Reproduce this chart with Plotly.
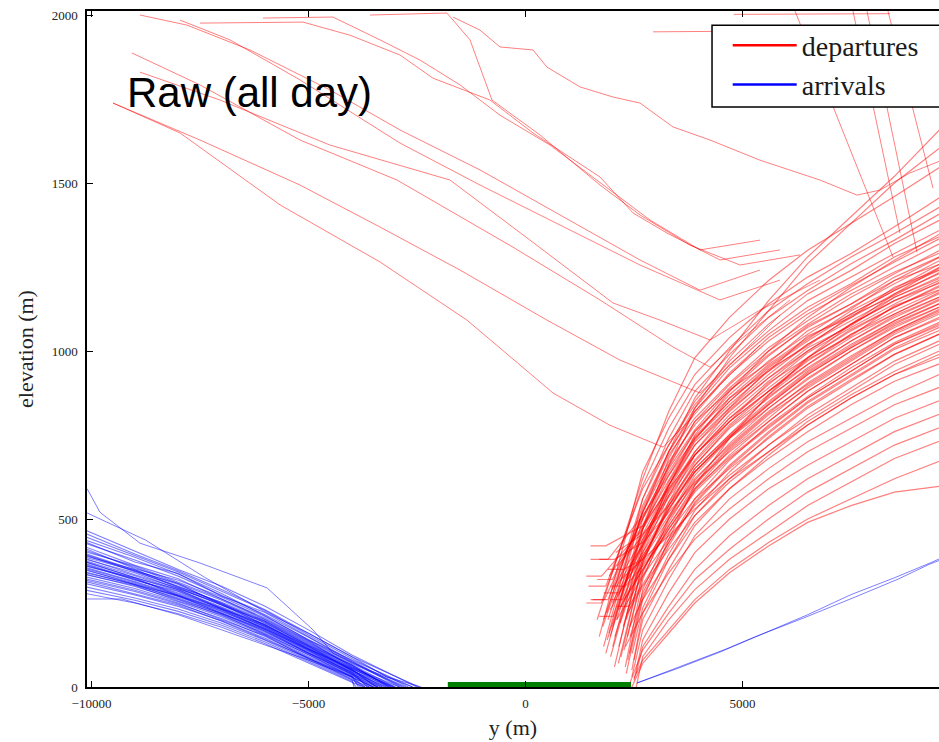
import plotly.graph_objects as go

# ---------------- DATA ----------------
# Departures: main climbing bundle. Each line = start point + elevations at common y nodes
dep_nodes = [2700, 3300, 3900, 4700, 5600, 6500, 7500, 8500, 9700]
dep_start_x = [1700, 1750, 1800, 1850, 1900, 2000, 1800, 1850, 1900, 1950,
               2000, 2050, 1900, 2100, 2150, 1750, 2000, 2200, 1850, 2100,
               2250, 2300, 1950, 2150, 2350, 2050, 2200, 2400, 2300, 2450,
               2100, 2350, 2500, 2250, 2400, 2450, 2300, 2500, 2550, 2400,
               2550, 2500, 2450, 1650,
               1780, 1820, 1880, 1930, 1960, 2020, 2060, 2110, 2140, 1990,
               2180, 2230, 2270, 2080, 2320, 2200, 2360, 2280, 2410, 2150,
               2380, 2460, 1870, 1920, 2010, 2120, 2320]
dep_start_y = [150, 250, 120, 300, 200, 180, 200, 100, 260, 150,
               320, 60, 380, 200, 120, 330, 250, 90, 420, 300,
               180, 60, 230, 280, 150, 380, 240, 100, 300, 50,
               200, 220, 80, 350, 180, 30, 120, 20, 40, 10,
               0, 25, 0, 200,
               180, 260, 140, 330, 90, 210, 150, 360, 70, 290,
               190, 260, 110, 400, 200, 320, 80, 260, 150, 230,
               240, 100, 220, 160, 120, 270, 40]
dep_lead_x = [None, 1400, None, 1450, None, None, None, None, 1550, None,
              1650, None, 1500, None, None, 1400, None, None, 1500, None,
              None, None, None, 1800, None, 1700, None, None, 1950, None,
              None, None, None, 1900, None, None, None, None, None, None,
              None, None, None, None,
              None, 1500, None, None, None, 1700, None, None, None, None,
              None, 1950, None, None, None, None, None, None, None, None,
              2100, None, None, None, None, None, None]
dep_elev = [
    [640, 800, 930, 1040, 1140, 1220, 1290, 1370, 1470],
    [600, 770, 900, 1010, 1120, 1200, 1280, 1350, 1440],
    [560, 740, 880, 990, 1100, 1180, 1260, 1330, 1420],
    [590, 720, 850, 970, 1080, 1170, 1240, 1320, 1400],
    [520, 700, 860, 1000, 1150, 1280, 1400, 1520, 1680],
    [480, 660, 830, 980, 1120, 1260, 1380, 1500, 1620],
    [540, 700, 820, 930, 1030, 1110, 1180, 1250, 1330],
    [500, 660, 790, 900, 1000, 1080, 1160, 1230, 1310],
    [520, 670, 780, 890, 990, 1070, 1140, 1210, 1290],
    [470, 630, 760, 870, 970, 1050, 1130, 1200, 1280],
    [500, 640, 760, 860, 960, 1040, 1110, 1180, 1260],
    [420, 600, 740, 850, 950, 1030, 1110, 1180, 1250],
    [510, 630, 740, 840, 940, 1020, 1100, 1170, 1240],
    [440, 590, 720, 830, 930, 1020, 1090, 1160, 1230],
    [400, 570, 700, 810, 910, 1000, 1080, 1150, 1220],
    [470, 600, 720, 820, 920, 1000, 1080, 1150, 1210],
    [430, 580, 690, 800, 890, 980, 1060, 1130, 1200],
    [370, 540, 670, 780, 880, 970, 1050, 1120, 1190],
    [480, 590, 690, 790, 880, 960, 1040, 1110, 1180],
    [420, 550, 660, 770, 860, 950, 1030, 1100, 1170],
    [380, 530, 650, 750, 850, 940, 1020, 1090, 1160],
    [320, 500, 630, 740, 840, 930, 1010, 1080, 1150],
    [400, 530, 640, 740, 830, 920, 1000, 1070, 1140],
    [390, 510, 620, 720, 820, 900, 980, 1060, 1130],
    [330, 480, 600, 710, 810, 890, 970, 1050, 1120],
    [430, 520, 610, 700, 790, 880, 960, 1040, 1110],
    [350, 470, 580, 680, 770, 860, 940, 1020, 1090],
    [270, 420, 550, 660, 760, 850, 930, 1010, 1080],
    [360, 460, 560, 650, 740, 830, 910, 990, 1060],
    [220, 380, 510, 620, 720, 810, 890, 970, 1040],
    [330, 440, 540, 630, 720, 800, 880, 960, 1030],
    [300, 410, 510, 610, 700, 790, 870, 940, 1010],
    [200, 350, 480, 590, 690, 780, 860, 930, 1000],
    [380, 450, 530, 620, 700, 780, 860, 930, 990],
    [260, 380, 490, 590, 680, 760, 840, 910, 970],
    [170, 320, 450, 560, 650, 730, 800, 870, 940],
    [220, 340, 440, 530, 620, 700, 770, 840, 900],
    [140, 280, 400, 500, 590, 660, 730, 800, 860],
    [120, 240, 350, 450, 540, 620, 690, 760, 820],
    [110, 220, 320, 410, 500, 580, 650, 720, 780],
    [90, 200, 290, 380, 460, 540, 610, 680, 740],
    [80, 170, 260, 350, 430, 500, 560, 620, 680],
    [70, 160, 250, 340, 420, 490, 540, 580, 600],
    [620, 820, 980, 1100, 1210, 1300, 1380, 1460, 1560],
    [520, 690, 800, 905, 1010, 1090, 1170, 1235, 1300],
    [505, 655, 790, 880, 985, 1075, 1140, 1220, 1290],
    [470, 650, 765, 885, 965, 1060, 1125, 1210, 1265],
    [480, 615, 745, 850, 955, 1035, 1120, 1185, 1270],
    [430, 610, 735, 860, 940, 1045, 1100, 1190, 1250],
    [455, 600, 730, 830, 945, 1015, 1105, 1165, 1245],
    [410, 585, 700, 825, 920, 1010, 1075, 1160, 1225],
    [450, 570, 690, 800, 900, 995, 1070, 1140, 1215],
    [370, 550, 690, 790, 905, 980, 1065, 1130, 1205],
    [440, 565, 675, 790, 880, 975, 1045, 1135, 1190],
    [380, 540, 660, 775, 870, 960, 1050, 1110, 1185],
    [390, 525, 650, 750, 865, 945, 1030, 1105, 1170],
    [340, 505, 640, 745, 845, 935, 1015, 1090, 1165],
    [455, 540, 640, 745, 840, 930, 1010, 1085, 1150],
    [345, 490, 615, 725, 830, 915, 1000, 1075, 1140],
    [380, 500, 605, 715, 815, 905, 985, 1060, 1135],
    [290, 455, 590, 705, 800, 895, 975, 1055, 1125],
    [350, 470, 585, 690, 790, 880, 960, 1040, 1105],
    [280, 430, 560, 675, 780, 865, 950, 1025, 1095],
    [365, 480, 590, 685, 775, 860, 940, 1020, 1085],
    [305, 430, 545, 655, 755, 845, 925, 1005, 1070],
    [235, 395, 525, 640, 745, 835, 915, 990, 1060],
    [560, 720, 840, 960, 1060, 1150, 1220, 1290, 1370],
    [530, 700, 830, 950, 1050, 1130, 1200, 1280, 1350],
    [470, 680, 820, 935, 1040, 1120, 1195, 1265, 1345],
    [420, 600, 750, 880, 1000, 1100, 1190, 1270, 1360],
    [260, 440, 600, 740, 870, 980, 1080, 1170, 1260],
]

# Departures: tracks descending from the upper left, then joining the bundle
desc_x = [
    [-9504, -7960, -5656, -3352, -1348, 634, 1947, 3168, 3790, 4481, 5402],
    [-9504, -7500, -5196, -3352, -1509, 495, 2177, 4020, 4712, 5863],
    [-9066, -7500, -5196, -2961, -288, 1716, 3398, 4251, 4942, 6094],
    [-8882, -7039, -4505, -1740, 104, 2016, 3099, 4251, 5402, 6784],
    [-8882, -7799, -6348, -4505, -2892, -1048, 795, 2638, 4020, 5402],
    [-7960, -6808, -5196, -2892, -1048, 795, 2638, 4481, 5863],
    [-7500, -5127, -4044, -2892, -2131, -818, 173, 1716, 2477, 3260, 4481, 5863],
    [-6048, -4436, -3352, -2431, -1509, -588, 564, 1947, 2868, 4020, 5402],
    [-3583, -1809, -1279, -772, 334, 1716, 2638, 3790, 4942, 6324],
    [-1670, -1048, -588, 173, 495, 1256, 2016, 2638, 3398, 4251, 5402, 6784, 7638, 8167, 8858, 9600],
    [2940, 5000],
    [4800, 8400],
    [6209, 8466],
    [7545, 8628],
    [7868, 9020],
    [8351, 9389],
]
desc_y = [
    [1738, 1649, 1435, 1265, 1092, 875, 779, 714, 795, 899, 1018],
    [1738, 1628, 1494, 1369, 1241, 1092, 973, 875, 958, 1107],
    [1887, 1792, 1628, 1509, 1309, 1152, 1012, 952, 1033, 1152],
    [1830, 1747, 1613, 1509, 1330, 1143, 1092, 1033, 1122, 1211],
    [2000, 1970, 1896, 1777, 1658, 1539, 1405, 1271, 1181, 1241],
    [1985, 1926, 1807, 1619, 1494, 1375, 1256, 1152, 1211],
    [1976, 1979, 1940, 1881, 1812, 1747, 1649, 1518, 1411, 1351, 1271, 1301],
    [1991, 1994, 1926, 1866, 1792, 1702, 1613, 1479, 1390, 1301, 1330],
    [2000, 2006, 1926, 1747, 1643, 1494, 1405, 1315, 1256, 1286],
    [1994, 1955, 1905, 1896, 1845, 1786, 1756, 1738, 1667, 1628, 1568, 1509, 1464, 1479, 1530, 1568],
    [1950, 1952],
    [2002, 2004],
    [2012, 1280],
    [2012, 1351],
    [2012, 1294],
    [2012, 1485],
]

# Arrivals: descending bundle on the left (elevation at common nodes, then touchdown y)
arr_nodes = [-10200, -9000, -8000, -7000, -6000, -5000, -4000]
arr_elev = [
    [470, 405, 350, 300, 240, 170, 95],
    [450, 390, 342, 285, 228, 155, 85],
    [430, 378, 330, 272, 215, 148, 75],
    [420, 362, 322, 262, 205, 138, 70],
    [410, 356, 308, 258, 200, 132, 66],
    [400, 348, 305, 248, 196, 128, 62],
    [395, 342, 300, 250, 190, 125, 58],
    [388, 346, 296, 244, 192, 122, 57],
    [385, 334, 294, 243, 186, 120, 54],
    [378, 331, 289, 238, 184, 117, 52],
    [374, 327, 286, 236, 181, 115, 49],
    [370, 322, 280, 234, 178, 111, 47],
    [364, 320, 277, 229, 175, 108, 44],
    [358, 314, 274, 226, 171, 105, 41],
    [350, 309, 269, 221, 167, 102, 39],
    [345, 304, 265, 217, 163, 99, 37],
    [338, 299, 260, 213, 159, 95, 34],
    [330, 293, 254, 209, 155, 91, 31],
    [320, 284, 247, 204, 150, 87, 28],
    [310, 274, 240, 197, 145, 83, 25],
    [300, 265, 232, 190, 139, 79, 21],
    [290, 258, 225, 184, 134, 75, 17],
    [280, 250, 218, 178, 129, 71, 14],
    [440, 386, 336, 278, 212, 140, 80],
    [460, 396, 346, 290, 230, 160, 90],
    [355, 312, 271, 225, 174, 113, 55],
    [415, 352, 318, 268, 210, 142, 72],
    [392, 350, 298, 252, 197, 130, 64],
    [368, 318, 284, 232, 180, 112, 50],
    [342, 306, 262, 219, 166, 100, 38],
    [435, 372, 338, 270, 222, 150, 78],
    [405, 360, 312, 262, 202, 136, 60],
    [398, 345, 308, 245, 194, 124, 66],
    [382, 340, 292, 248, 183, 121, 50],
    [376, 325, 290, 232, 186, 114, 53],
    [362, 324, 272, 231, 172, 110, 42],
    [352, 305, 272, 219, 170, 101, 45],
    [336, 302, 256, 215, 157, 97, 30],
    [324, 288, 250, 200, 153, 85, 32],
    [316, 276, 244, 196, 141, 86, 22],
]
arr_touch = [-2500, -2700, -2900, -2800, -3000, -3100, -2900, -3200, -3000, -3300,
             -3100, -3400, -3200, -3500, -3300, -3600, -3400, -3700, -3500, -3800,
             -3600, -3900, -3700, -2600, -2450, -3050, -2750, -3150, -3350, -3550,
             -2850, -3050, -3150, -3250, -3450, -3400, -3650, -3750, -3850, -3950]

# Arrivals: individual outlying tracks
arr_extra_x = [
    [-10100, -9803, -8882, -7500, -5956, -4896, -4436, -3600, -2600],
    [-10100, -8750, -7400, -5950, -5000, -4000, -3200, -2400],
    [-10100, -9300, -8000, -7000, -6000, -5000, -4000, -3500],
    [2570, 3500, 4500, 5240, 6500, 7500, 8500, 9320, 9600],
    [2570, 3600, 4600, 5300, 6400, 7600, 8600, 9300, 9600],
]
arr_extra_y = [
    [590, 520, 428, 369, 295, 170, 101, 50, 0],
    [518, 437, 327, 220, 160, 90, 30, 0],
    [262, 262, 215, 170, 125, 80, 30, 0],
    [12, 55, 105, 146, 215, 275, 325, 369, 385],
    [12, 62, 112, 150, 205, 268, 322, 365, 380],
]

# Runway
runway_x = [-1790, 2430]
runway_y = [0, 0]

# Axis ticks
x_tickvals = [-10000, -5000, 0, 5000]
x_ticktext = ["\u221210000", "\u22125000", "0", "5000"]
y_tickvals = [0, 500, 1000, 1500, 2000]
y_ticktext = ["0", "500", "1000", "1500", "2000"]

# ---------------- FIGURE ----------------
RED = "rgba(255,0,0,0.5)"
BLUE = "rgba(0,0,255,0.5)"
SERIF = "Liberation Serif"

fig = go.Figure()

for i in range(len(dep_start_x)):
    xs = [dep_start_x[i]] + dep_nodes
    ys = [dep_start_y[i]] + dep_elev[i]
    if dep_lead_x[i] is not None:
        xs = [dep_lead_x[i]] + xs
        ys = [dep_start_y[i]] + ys
    fig.add_trace(go.Scatter(x=xs, y=ys, mode="lines", line=dict(color=RED, width=1.2),
                             showlegend=False, hoverinfo="skip"))

for xs, ys in zip(desc_x, desc_y):
    fig.add_trace(go.Scatter(x=xs, y=ys, mode="lines", line=dict(color=RED, width=1),
                             showlegend=False, hoverinfo="skip"))

for i in range(len(arr_elev)):
    xs = arr_nodes + [arr_touch[i]]
    ys = arr_elev[i] + [0]
    fig.add_trace(go.Scatter(x=xs, y=ys, mode="lines", line=dict(color=BLUE, width=1.1),
                             showlegend=False, hoverinfo="skip"))

for xs, ys in zip(arr_extra_x, arr_extra_y):
    fig.add_trace(go.Scatter(x=xs, y=ys, mode="lines", line=dict(color=BLUE, width=1),
                             showlegend=False, hoverinfo="skip"))

fig.add_trace(go.Scatter(x=runway_x, y=runway_y, mode="lines",
                         line=dict(color="#007f00", width=10),
                         showlegend=False, hoverinfo="skip"))

# legend entries
fig.add_trace(go.Scatter(x=[None], y=[None], mode="lines", name="departures",
                         line=dict(color="red", width=2.5)))
fig.add_trace(go.Scatter(x=[None], y=[None], mode="lines", name="arrivals",
                         line=dict(color="blue", width=2.5)))

fig.update_layout(
    width=939, height=742,
    margin=dict(l=87, r=0, t=11, b=55),
    paper_bgcolor="white", plot_bgcolor="white",
    showlegend=True,
    legend=dict(x=0.752, y=0.986, xanchor="left", yanchor="top",
                bgcolor="rgba(0,0,0,0)", borderwidth=0, itemwidth=64,
                font=dict(family=SERIF, size=28, color="#1a1a1a")),
    shapes=[dict(type="rect", xref="paper", yref="paper",
                 x0=0.7336, x1=1.05, y0=0.858, y1=0.979,
                 line=dict(color="black", width=1.5), fillcolor="white",
                 layer="above")],
    annotations=[dict(text="Raw (all day)", xref="paper", yref="paper",
                      x=0.0446, y=0.880, xanchor="left", yanchor="middle",
                      showarrow=False,
                      font=dict(family="Liberation Sans", size=42, color="black"))],
)

fig.update_xaxes(
    range=[-10103, 9527], showgrid=False, zeroline=False,
    showline=True, linecolor="black", linewidth=1.5, mirror="ticks",
    ticks="inside", ticklen=6, tickcolor="black",
    tickvals=x_tickvals, ticktext=x_ticktext, ticklabelstandoff=4,
    tickfont=dict(family=SERIF, size=13, color="#222"),
    title=dict(text="y (m)", font=dict(family=SERIF, size=22, color="#222"), standoff=9),
)
fig.update_yaxes(
    range=[0, 2012], showgrid=False, zeroline=False,
    showline=True, linecolor="black", linewidth=1.5, mirror=False,
    ticks="inside", ticklen=6, tickcolor="black",
    tickvals=y_tickvals, ticktext=y_ticktext, ticklabelstandoff=5,
    tickfont=dict(family=SERIF, size=13, color="#222"),
    title=dict(text="elevation (m)", font=dict(family=SERIF, size=22, color="#222"), standoff=12),
)

fig.write_html("out.html")
